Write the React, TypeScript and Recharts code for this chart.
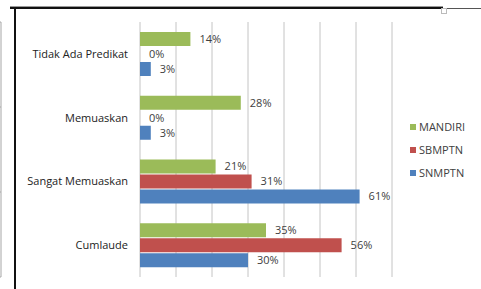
import React from "react";
import { BarChart, Bar, XAxis, YAxis, CartesianGrid, Legend, LabelList } from "recharts";

const categories = ["Tidak Ada Predikat", "Memuaskan", "Sangat Memuaskan", "Cumlaude"];
const mandiri = [14, 28, 21, 35];
const sbmptn = [0, 0, 31, 56];
const snmptn = [3, 3, 61, 30];
const xTicks = [0, 10, 20, 30, 40, 50, 60, 70];
const boundaryTicks = [0, 1, 2, 3, 4];

const data = categories.map((name, i) => ({
  name,
  MANDIRI: mandiri[i],
  SBMPTN: sbmptn[i],
  SNMPTN: snmptn[i],
}));

const FONT = "'Open Sans', 'Liberation Sans', sans-serif";
const TEXT = "#404040";

const LegendContent = (props: any) => {
  const { payload } = props;
  return (
    <div style={{ fontFamily: FONT, fontSize: 11, color: TEXT }}>
      {(payload || []).map((p: any) => (
        <div key={p.value} style={{ display: "flex", alignItems: "center", height: 23 }}>
          <span style={{ display: "inline-block", width: 6, height: 6, background: p.color, marginRight: 3 }} />
          <span>{p.value}</span>
        </div>
      ))}
    </div>
  );
};

const labelProps = {
  position: "right" as const,
  offset: 9,
  fill: TEXT,
  fontSize: 11,
  fontFamily: FONT,
  formatter: (v: any) => `${v}%`,
};

export default function App() {
  return (
    <div style={{ position: "absolute", left: 0, top: 0, width: 481, height: 289, background: "#fff", overflow: "hidden" }}>
      <BarChart
        width={481}
        height={289}
        data={data}
        layout="vertical"
        margin={{ top: 22, right: 89, bottom: 12, left: 0 }}
        barSize={14}
        barGap={1}
      >
        <CartesianGrid horizontal={false} vertical stroke="#c4c4c4" />
        <XAxis type="number" domain={[0, 70]} ticks={xTicks} hide allowDataOverflow />
        <YAxis
          yAxisId="b"
          type="number"
          domain={[0, 4]}
          ticks={boundaryTicks}
          allowDataOverflow
          width={1}
          axisLine={{ stroke: "#a6a6a6" }}
          tickLine={{ stroke: "#a6a6a6" }}
          tickSize={4}
          tickFormatter={() => ""}
        />
        <YAxis
          type="category"
          dataKey="name"
          width={139}
          axisLine={false}
          tickLine={false}
          tickMargin={6}
          tick={{ fill: "#222", fontSize: 11, fontFamily: FONT }}
        />
        <Bar dataKey="MANDIRI" fill="#9BBB59" isAnimationActive={false} minPointSize={0.01}>
          <LabelList dataKey="MANDIRI" {...labelProps} />
        </Bar>
        <Bar dataKey="SBMPTN" fill="#C0504D" isAnimationActive={false} minPointSize={0.01}>
          <LabelList dataKey="SBMPTN" {...labelProps} />
        </Bar>
        <Bar dataKey="SNMPTN" fill="#4F81BD" isAnimationActive={false} minPointSize={0.01}>
          <LabelList dataKey="SNMPTN" {...labelProps} />
        </Bar>
        <Legend
          layout="vertical"
          align="center"
          verticalAlign="middle"
          content={LegendContent}
          wrapperStyle={{ left: 410, top: 115, width: 70 }}
        />
      </BarChart>
      <div style={{ position: "absolute", left: 10, top: 6, width: 433, height: 1, background: "#999" }} />
      <div style={{ position: "absolute", left: 10, top: 7, width: 433, height: 2, background: "#111" }} />
      <div style={{ position: "absolute", left: 443, top: 8, width: 38, height: 1, background: "#555" }} />
      <div style={{ position: "absolute", left: 441, top: 8, width: 4, height: 4, border: "1px solid #bbb" }} />
      <div style={{ position: "absolute", left: 14, top: 7, width: 2, height: 282, background: "#111" }} />
    </div>
  );
}
